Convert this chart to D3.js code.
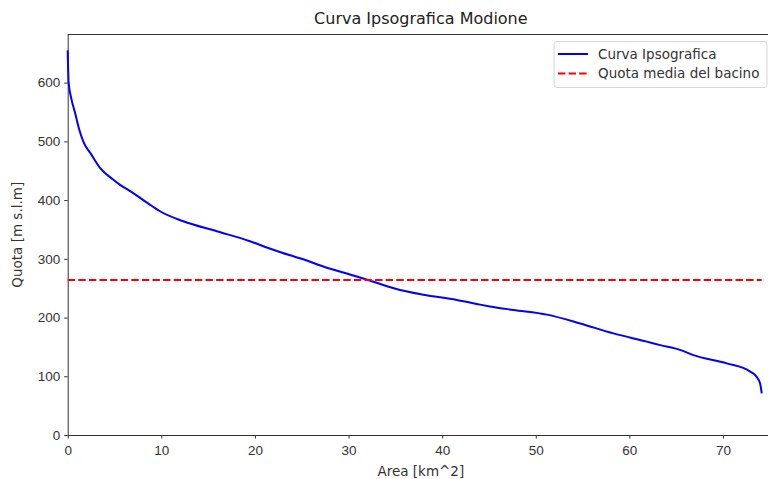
<!DOCTYPE html>
<html>
<head>
<meta charset="utf-8">
<script src="https://cdn.jsdelivr.net/npm/d3@7.9.0/dist/d3.min.js"></script>
<style>
  body { margin: 0; background: #fff; }
  svg { display: block; font-family: "DejaVu Sans", sans-serif; }
  .tick text { fill: #333; font-size: 13.5px; }
  .tick line { stroke: #333; }
  .domain { stroke: #333; }
</style>
</head>
<body>
<svg id="chart" width="768" height="479"></svg>
<script>
// Hypsographic curve
const area = [0, 0.1, 0.4, 0.78, 1.2, 1.66, 2.55, 3.45, 4.85, 5.59, 6.8, 8.08, 9.0, 9.86,
  12.35, 15.92, 19.47, 21.5, 23.75, 24.82, 27.3, 30.88, 32.65, 35.5, 38.0, 41.56, 44.05,
  45.1, 47.6, 51.2, 54.75, 58.3, 61.86, 63.3, 65.4, 66.84, 70.4, 72.9, 73.6, 73.96, 74.14];
const quota = [655, 600, 572, 549, 522, 500, 477, 455, 435, 426, 414, 400, 390, 381,
  364, 347, 330, 318, 306, 301, 287, 270, 261, 247, 239, 230, 222,
  219, 213, 205, 190, 173, 159, 153, 145, 136, 122, 108, 99, 88, 71];

// Mean basin elevation
const quotaMedia = 264;

const xTicks = [0, 10, 20, 30, 40, 50, 60, 70];
const yTicks = [0, 100, 200, 300, 400, 500, 600];

const margin = { top: 34.5, left: 67.7, bottom: 435, right: 774 };

const svg = d3.select('#chart');

const x = d3.scaleLinear().domain([0, 75.45]).range([margin.left, margin.right]);
const y = d3.scaleLinear().domain([0, 682]).range([margin.bottom, margin.top]);

// Axes
svg.append('g')
  .attr('transform', `translate(0,${margin.bottom})`)
  .call(d3.axisBottom(x).tickValues(xTicks).tickSize(3.5).tickPadding(4).tickSizeOuter(0))
  .call(g => g.selectAll('.tick text').attr('dy', '0.9em'));

svg.append('g')
  .attr('transform', `translate(${margin.left},0)`)
  .call(d3.axisLeft(y).tickValues(yTicks).tickSize(3.5).tickPadding(4).tickSizeOuter(0));

// Top and right spines
svg.append('line')
  .attr('x1', margin.left).attr('x2', margin.right)
  .attr('y1', margin.top).attr('y2', margin.top)
  .attr('stroke', '#333');
svg.append('line')
  .attr('x1', margin.right).attr('x2', margin.right)
  .attr('y1', margin.top).attr('y2', margin.bottom)
  .attr('stroke', '#333');

// Curve
const line = d3.line()
  .x((d, i) => x(area[i]))
  .y(d => y(d))
  .curve(d3.curveMonotoneX);
svg.append('path')
  .datum(quota)
  .attr('d', line)
  .attr('fill', 'none')
  .attr('stroke', '#0000ff')
  .attr('stroke-width', 2)
  .attr('stroke-linejoin', 'round');

// Mean line
svg.append('line')
  .attr('x1', x(0)).attr('x2', x(d3.max(area)))
  .attr('y1', y(quotaMedia)).attr('y2', y(quotaMedia))
  .attr('stroke', '#ff0000')
  .attr('stroke-width', 2)
  .attr('stroke-dasharray', '7.4,3.2');

// Title and labels
svg.append('text')
  .attr('x', (margin.left + margin.right) / 2)
  .attr('y', 24)
  .attr('text-anchor', 'middle')
  .attr('font-size', 16)
  .attr('fill', '#222')
  .text('Curva Ipsografica Modione');

svg.append('text')
  .attr('x', (margin.left + margin.right) / 2)
  .attr('y', 476)
  .attr('text-anchor', 'middle')
  .attr('font-size', 13.5)
  .attr('fill', '#333')
  .text('Area [km^2]');

svg.append('text')
  .attr('transform', `translate(22,${(margin.top + margin.bottom) / 2}) rotate(-90)`)
  .attr('text-anchor', 'middle')
  .attr('font-size', 13.5)
  .attr('fill', '#333')
  .text('Quota [m s.l.m]');

// Legend
const legend = svg.append('g').attr('transform', 'translate(554,41.5)');
legend.append('rect')
  .attr('width', 213).attr('height', 46)
  .attr('rx', 3)
  .attr('fill', 'rgba(255,255,255,0.8)')
  .attr('stroke', '#d6d6d6');

const items = [
  { label: 'Curva Ipsografica', color: '#0000ff', dash: null },
  { label: 'Quota media del bacino', color: '#ff0000', dash: '7.4,3.2' }
];
items.forEach((d, i) => {
  const yy = 12.5 + i * 19.5;
  legend.append('line')
    .attr('x1', 4).attr('x2', 34)
    .attr('y1', yy).attr('y2', yy)
    .attr('stroke', d.color)
    .attr('stroke-width', 2)
    .attr('stroke-dasharray', d.dash);
  legend.append('text')
    .attr('x', 44).attr('y', yy)
    .attr('dy', '0.35em')
    .attr('font-size', 13.5)
    .attr('fill', '#333')
    .text(d.label);
});
</script>
</body>
</html>
